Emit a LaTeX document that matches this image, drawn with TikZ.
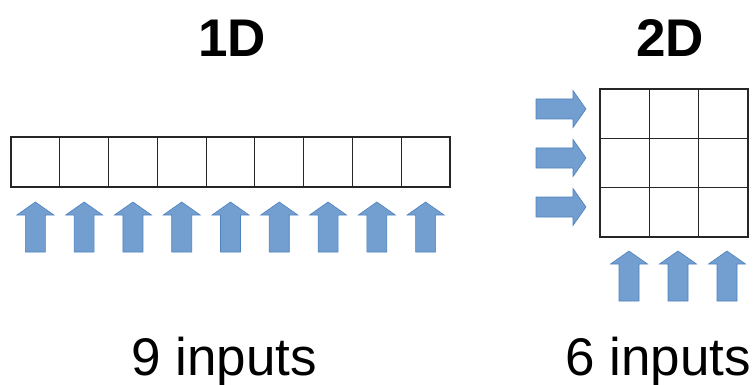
\documentclass[tikz,border=0pt]{standalone}
\usepackage{fontspec}
\setmainfont{Liberation Sans}
\definecolor{arrowfill}{RGB}{114,159,207}
\definecolor{arrowline}{RGB}{79,129,189}
\tikzset{
  cellline/.style={black!85, line width=1.1pt},
  arrowbox/.style={fill=arrowfill, draw=arrowline, line width=0.6pt, line join=miter},
  uparrow/.pic={\filldraw[arrowbox] (0,0) -- (18.5,13) -- (10,13) -- (10,50) -- (-10,50) -- (-10,13) -- (-18.5,13) -- cycle;},
  rightarrow/.pic={\filldraw[arrowbox] (0,0) -- (-13,18.5) -- (-13,10) -- (-50,10) -- (-50,-10) -- (-13,-10) -- (-13,-18.5) -- cycle;},
  title/.style={anchor=base, font=\fontsize{53}{60}\selectfont\bfseries, inner sep=0pt},
  count/.style={anchor=base, font=\fontsize{53}{60}\selectfont, inner sep=0pt}
}
\begin{document}
\begin{tikzpicture}[x=1pt, y=-1pt]
            \useasboundingbox (0,0) rectangle (755,385);

            % 1D row of nine cells
            \draw[cellline] (11,137) rectangle (450,187);
            \foreach \i in {1,...,8}
                \draw[cellline] ({11+\i*48.78},137) -- ++(0,50);
            \foreach \i in {0,...,8}
                \pic at ({11+(\i+0.5)*48.78},202) {uparrow};

            % 2D grid of 3x3 cells
            \draw[cellline] (600,89) rectangle (748,237);
            \foreach \i in {1,2} {
                \draw[cellline] ({600+\i*49.33},89) -- ++(0,148);
                \draw[cellline] (600,{89+\i*49.33}) -- ++(148,0);
            }
            \foreach \j in {0,1,2}
                \pic at (586,{109+\j*49}) {rightarrow};
            \foreach \i in {0,1,2}
                \pic at ({629+\i*49},251) {uparrow};

            \node[title] (oned) at (232,57) {1D};
            \node[title] (twod) at (670,57) {2D};
            \node[count] (ninein) at (224,375) {9 inputs};
            \node[count] (sixin) at (658,375) {6 inputs};
        \end{tikzpicture}
\end{document}
